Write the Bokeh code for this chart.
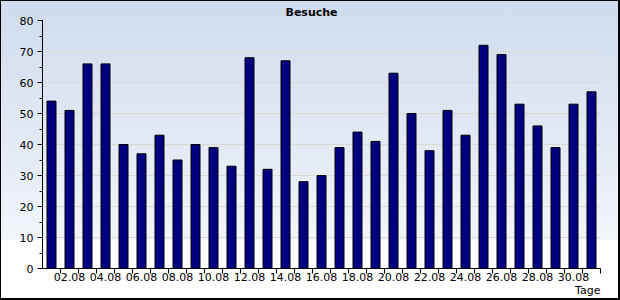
from bokeh.plotting import figure
from bokeh.models import FixedTicker, SingleIntervalTicker, Range1d, Title
from bokeh.embed import file_html
from bokeh.resources import INLINE

days = list(range(1, 32))
day_labels = ["%02d.08" % d for d in days]
visits = [54, 51, 66, 66, 40, 37, 43, 35, 40, 39, 33, 68, 32, 67, 28, 30,
          39, 44, 41, 63, 50, 38, 51, 43, 72, 69, 53, 46, 39, 53, 57]
title_text = "Besuche"
x_title = "Tage"

FONT = "DejaVu Sans"

p = figure(width=620, height=300, output_backend="svg", toolbar_location=None,
           x_range=Range1d(0.5, len(days) + 0.5), y_range=Range1d(0, 80),
           min_border_left=42, min_border_right=20, min_border_top=20,
           min_border_bottom=32)

p.styles = {
    "background-image": "linear-gradient(to bottom, #cfdcee 0%, #e2e9f4 45%, #f2f5fa 80%, #ffffff 80%, #ffffff 100%)",
    "box-shadow": "inset 1px 1px 0 #000, inset -2px -2px 0 #000",
}
p.background_fill_alpha = 0
p.border_fill_alpha = 0
p.outline_line_color = None

p.vbar(x=days, top=visits, width=0.5, fill_color="#000080",
       line_color="#000000", line_width=1)

# title
p.title.text = title_text
p.title.align = "left"
p.title.text_font = FONT
p.title.text_font_size = "11px"
p.title.text_font_style = "bold"
p.title.text_color = "#000000"
p.title.offset = 243
p.title.standoff = 4

# x axis
xa = p.xaxis[0]
label_pos = [d for d in days if d % 2 == 0]
xa.ticker = FixedTicker(ticks=label_pos,
                        minor_ticks=[d + 0.5 for d in days])
xa.major_label_overrides = {d: day_labels[d - 1] for d in label_pos}
xa.major_tick_out = 0
xa.major_tick_in = 0
xa.minor_tick_out = 5
xa.minor_tick_in = 0
xa.minor_tick_line_color = "#000000"
xa.axis_line_color = "#000000"
xa.major_label_text_font = FONT
xa.major_label_text_font_size = "11px"
xa.major_label_text_color = "#000000"
xa.major_label_standoff = -1

# y axis
ya = p.yaxis[0]
ya.ticker = SingleIntervalTicker(interval=10, num_minor_ticks=2)
ya.major_tick_out = 5
ya.major_tick_in = 0
ya.minor_tick_out = 3
ya.minor_tick_in = 0
ya.major_tick_line_color = "#000000"
ya.minor_tick_line_color = "#000000"
ya.axis_line_color = "#000000"
ya.major_label_text_font = FONT
ya.major_label_text_font_size = "11px"
ya.major_label_text_color = "#000000"
ya.major_label_standoff = 4

p.xgrid.grid_line_color = None
p.ygrid.ticker = SingleIntervalTicker(interval=10)
p.ygrid.grid_line_color = "#ddd8d2"
p.ygrid.grid_line_width = 1

# axis title "Tage", right-aligned under the end of the x axis
t = Title(text=x_title, align="right", vertical_align="top", text_font=FONT,
          text_font_size="11px", text_font_style="normal",
          text_color="#000000", standoff=0, offset=0)
p.add_layout(t, "below")

open("out.html", "w").write(file_html(p, INLINE))
